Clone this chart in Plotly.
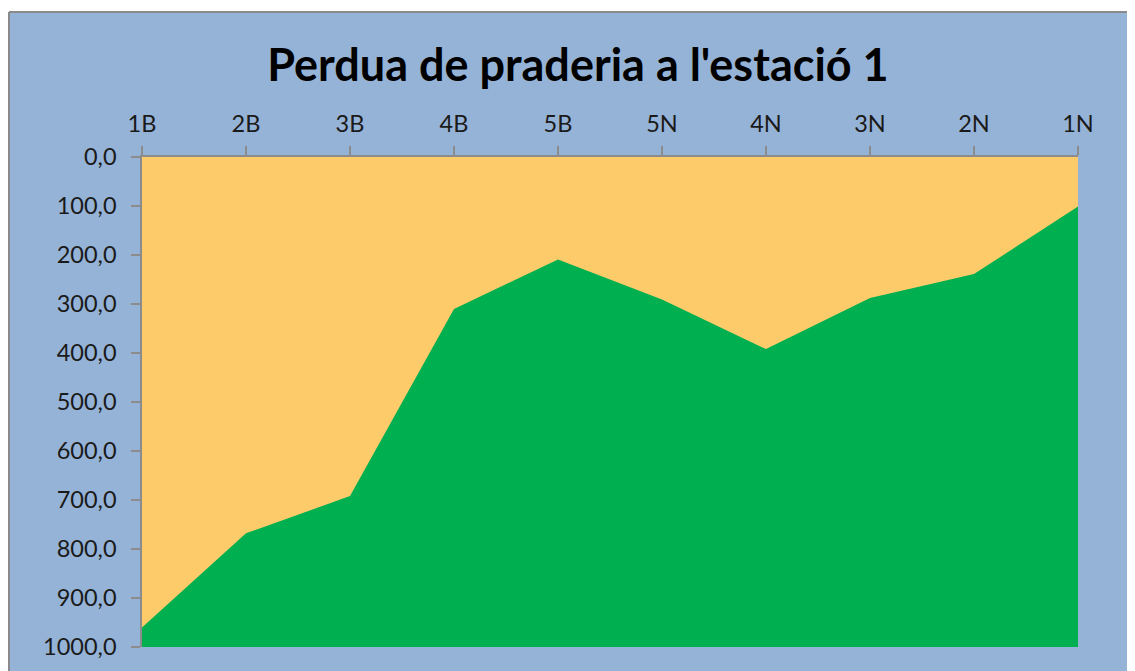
import plotly.graph_objects as go

categories = ["1B", "2B", "3B", "4B", "5B", "5N", "4N", "3N", "2N", "1N"]
perdua = [960, 768, 692, 310, 209, 291, 392, 288, 239, 101]
base_level = [1000] * len(categories)
y_ticks = [0, 100, 200, 300, 400, 500, 600, 700, 800, 900, 1000]
title_text = "Perdua de praderia a l'estació 1"

# page body has an 8px margin, so the figure is drawn at offset (8, 8)
W, H = 1135, 671
L, R, T, B = 134, 65, 149, 32
pw, ph = W - L - R, H - T - B

def px_x(p):
    return (p - L) / pw

def px_y(p):
    return (H - B - p) / ph

fig = go.Figure()
fig.add_trace(go.Scatter(x=categories, y=base_level, mode="lines",
                         line=dict(width=0, color="#00AF50"), hoverinfo="skip",
                         showlegend=False))
fig.add_trace(go.Scatter(x=categories, y=perdua, mode="lines", fill="tonexty",
                         fillcolor="#00AF50", line=dict(width=0, color="#00AF50"),
                         showlegend=False))

tickfont = dict(family="Lato", size=23.5, color="#1a1a1a")
fig.update_layout(
    width=W, height=H,
    margin=dict(l=L, r=R, t=T, b=B),
    paper_bgcolor="#95B3D7",
    plot_bgcolor="#FDCB6A",
    separators=",.",
    title=dict(text=title_text, x=570 / W, xanchor="center", y=1 - 57 / H,
               yanchor="middle", font=dict(family="Lato", size=45, color="black",
                                            weight="bold")),
    xaxis=dict(type="category", side="top", range=[0, len(categories) - 1],
               showgrid=False, showline=True, linecolor="#8c8c8c", linewidth=1.5,
               ticks="outside", ticklen=9, tickcolor="#8c8c8c", tickwidth=1.5,
               tickfont=tickfont, ticklabelstandoff=5, zeroline=False),
    yaxis=dict(range=[1000, 0], tickvals=y_ticks, tickformat=".1f",
               showgrid=False, showline=True, linecolor="#8c8c8c", linewidth=1.5,
               ticks="outside", ticklen=9, tickcolor="#8c8c8c", tickwidth=1.5,
               tickfont=tickfont, ticklabelstandoff=10, zeroline=False),
    shapes=[
        dict(type="rect", xref="paper", yref="paper", x0=px_x(-10), x1=px_x(W + 10),
             y0=px_y(4), y1=px_y(-10), fillcolor="white", line=dict(width=0),
             layer="above"),
        dict(type="line", xref="paper", yref="paper", x0=px_x(1), x1=px_x(W + 10),
             y0=px_y(4), y1=px_y(4), line=dict(color="#8a8a8a", width=2),
             layer="above"),
        dict(type="line", xref="paper", yref="paper", x0=px_x(1), x1=px_x(1),
             y0=px_y(4), y1=px_y(H + 10), line=dict(color="#8a8a8a", width=2),
             layer="above"),
    ],
)

fig.write_html("out.html")
